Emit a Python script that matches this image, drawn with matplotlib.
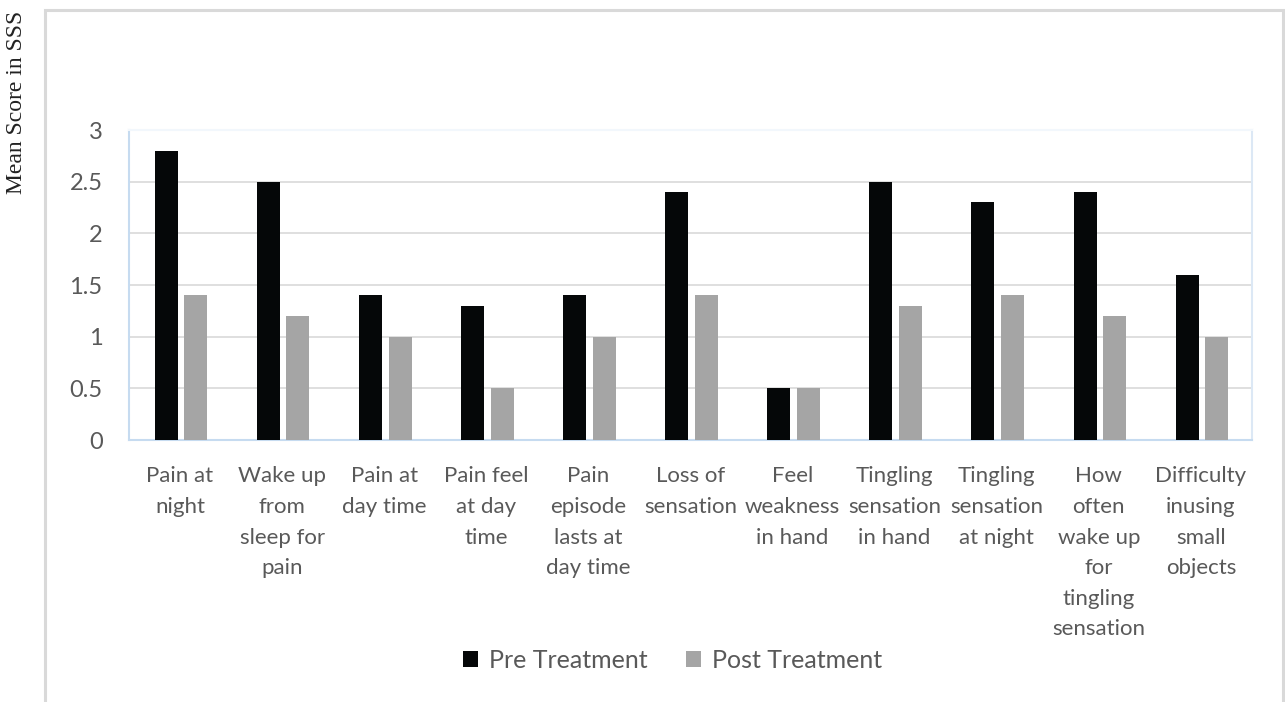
import matplotlib.pyplot as plt
import numpy as np
from matplotlib.patches import Rectangle

# Symptom severity items and mean scores
items = ["Pain at\nnight", "Wake up\nfrom\nsleep for\npain", "Pain at\nday time",
         "Pain feel\nat day\ntime", "Pain\nepisode\nlasts at\nday time", "Loss of\nsensation",
         "Feel\nweakness\nin hand", "Tingling\nsensation\nin hand", "Tingling\nsensation\nat night",
         "How\noften\nwake up\nfor\ntingling\nsensation", "Difficulty\ninusing\nsmall\nobjects"]
pre = [2.8, 2.5, 1.4, 1.3, 1.4, 2.4, 0.5, 2.5, 2.3, 2.4, 1.6]
post = [1.4, 1.2, 1.0, 0.5, 1.0, 1.4, 0.5, 1.3, 1.4, 1.2, 1.0]
yticks = [0, 0.5, 1, 1.5, 2, 2.5, 3]

plt.rcParams['font.family'] = ['Lato', 'DejaVu Sans']

fig = plt.figure(figsize=(12.85, 7.02), dpi=100)
ax = fig.add_axes([0.1004, 0.3732, 0.8739, 0.4416])

x = np.arange(len(items))
w = 0.225
ax.bar(x - 0.135, pre, w, color='#050708', label='Pre Treatment', zorder=3)
ax.bar(x + 0.155, post, w, color='#a5a5a5', label='Post Treatment', zorder=3)

ax.set_xlim(-0.5, len(items) - 0.5)
ax.set_ylim(0, 3)
ax.set_yticks(yticks)
ax.set_yticklabels(['0', '0.5', '1', '1.5', '2', '2.5', '3'])
ax.set_xticks(x)
ax.set_xticklabels(items, linespacing=1.66)
ax.tick_params(length=0, labelcolor='#595959')
ax.tick_params(axis='y', pad=19, labelsize=17)
ax.tick_params(axis='x', pad=19, labelsize=16)
ax.yaxis.grid(True, color='#d9d9d9', lw=1.2, zorder=0)
for s in ax.spines.values():
    s.set_color('#c6dbf0')
    s.set_linewidth(1.5)
ax.spines['top'].set_color('#f2f7fc')
ax.spines['right'].set_color('#dce8f5')

leg = ax.legend(loc='center', bbox_to_anchor=(0.484, -0.71), ncol=2, frameon=False,
                fontsize=18, handlelength=0.6, handleheight=0.6, columnspacing=1.5,
                handletextpad=0.45, labelcolor='#595959')

fig.text(17 / 1285, 1 - 102 / 702, 'Mean Score in SSS', rotation=90, ha='center', va='center',
         family='Liberation Serif', fontsize=17, color='#222222')

# outer chart frame
fig.patches.append(Rectangle((45 / 1285, -0.01), (1283 - 45) / 1285, 1 - 10 / 702 + 0.01,
                             transform=fig.transFigure, fill=False, edgecolor='#d9d9d9',
                             lw=2.2, zorder=0))

fig.savefig('out.png', dpi=100)
